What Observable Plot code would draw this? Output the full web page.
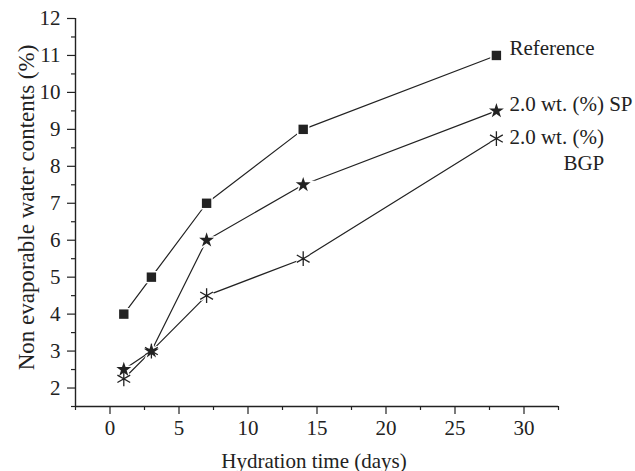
<!DOCTYPE html>
<html>
<head>
<meta charset="utf-8">
<script src="https://cdn.jsdelivr.net/npm/d3@7"></script>
<script src="https://cdn.jsdelivr.net/npm/@observablehq/plot@0.6"></script>
<style>
  html, body { margin: 0; padding: 0; background: #fff; }
</style>
</head>
<body>
<div id="chart"></div>
<script>
const days = [1, 3, 7, 14, 28];
const reference = [4, 5, 7, 9, 11];
const sp = [2.5, 3, 6, 7.5, 9.5];
const bgp = [2.25, 3, 4.5, 5.5, 8.75];
const seriesNames = ["Reference", "2.0 wt. (%) SP", "2.0 wt. (%) BGP"];
const xMajor = [0, 5, 10, 15, 20, 25, 30];
const xMinor = [-2.5, 2.5, 7.5, 12.5, 17.5, 22.5, 27.5, 32.5];
const yMajor = [2, 3, 4, 5, 6, 7, 8, 9, 10, 11, 12];
const yMinor = [1.5, 2.5, 3.5, 4.5, 5.5, 6.5, 7.5, 8.5, 9.5, 10.5, 11.5];
const xLabel = "Hydration time (days)";
const yLabel = "Non evaporable water contents (%)";

const toRows = (vals, name) => days.map((d, i) => ({day: d, value: vals[i], series: name}));
const refRows = toRows(reference, seriesNames[0]);
const spRows = toRows(sp, seriesNames[1]);
const bgpRows = toRows(bgp, seriesNames[2]);
const allRows = [...refRows, ...spRows, ...bgpRows];
const last = rows => [rows[rows.length - 1]];

const ink = "#222";
const font = 21;

const chart = Plot.plot({
  width: 635,
  height: 471,
  marginLeft: 75,
  marginRight: 77,
  marginTop: 18,
  marginBottom: 65,
  x: {domain: [-2.5, 32.5]},
  y: {domain: [1.5, 12]},
  style: {fontFamily: "'Liberation Serif', 'DejaVu Serif', serif", fontSize: font + "px", color: ink, background: "white"},
  marks: [
    Plot.axisX({ticks: xMajor, tickSize: 8, tickPadding: 6, label: null, fontSize: font, stroke: ink, strokeWidth: 1.2}),
    Plot.axisX({ticks: xMinor, tickSize: 4, tickFormat: () => "", label: null, stroke: ink, strokeWidth: 1.2}),
    Plot.axisY({ticks: yMajor, tickSize: 8, tickPadding: 7, label: null, fontSize: font, stroke: ink, strokeWidth: 1.2}),
    Plot.axisY({ticks: yMinor, tickSize: 4, tickFormat: () => "", label: null, stroke: ink, strokeWidth: 1.2}),
    Plot.ruleY([1.5], {stroke: ink, strokeWidth: 1.4}),
    Plot.ruleX([-2.5], {stroke: ink, strokeWidth: 1.4}),
    Plot.line(allRows, {x: "day", y: "value", z: "series", stroke: ink, strokeWidth: 1.2}),
    // white halos
    Plot.dot(refRows, {x: "day", y: "value", symbol: "square", r: 5.3, fill: "white", stroke: "white", strokeWidth: 3}),
    Plot.dot(spRows, {x: "day", y: "value", symbol: "star", r: 4.7, fill: "white", stroke: "white", strokeWidth: 3}),
    Plot.dot(bgpRows, {x: "day", y: "value", symbol: "asterisk", r: 7, stroke: "white", strokeWidth: 4}),
    // markers
    Plot.dot(refRows, {x: "day", y: "value", symbol: "square", r: 5.3, fill: ink, stroke: "none"}),
    Plot.dot(spRows, {x: "day", y: "value", symbol: "star", r: 4.7, fill: ink, stroke: "none"}),
    Plot.dot(bgpRows, {x: "day", y: "value", symbol: "asterisk", r: 7, stroke: ink, strokeWidth: 1.3}),
    // series labels
    Plot.text(last(refRows), {x: "day", y: "value", text: d => seriesNames[0], textAnchor: "start", lineAnchor: "bottom", dx: 13, dy: 0, fontSize: font, fill: ink}),
    Plot.text(last(spRows), {x: "day", y: "value", text: d => seriesNames[1], textAnchor: "start", lineAnchor: "bottom", dx: 13, dy: 0, fontSize: font, fill: ink}),
    Plot.text(last(bgpRows), {x: "day", y: "value", text: d => seriesNames[2].split(" BGP")[0], textAnchor: "start", lineAnchor: "bottom", dx: 13, dy: 5, fontSize: font, fill: ink}),
    Plot.text(last(bgpRows), {x: "day", y: "value", text: d => "BGP", textAnchor: "start", lineAnchor: "bottom", dx: 67, dy: 31.5, fontSize: font, fill: ink}),
    // axis titles
    Plot.text([xLabel], {text: d => d, frameAnchor: "bottom", textAnchor: "middle", lineAnchor: "bottom", dx: -3, dy: 61, fontSize: font, fill: ink}),
    Plot.text([yLabel], {text: d => d, frameAnchor: "left", textAnchor: "middle", rotate: -90, lineAnchor: "bottom", dx: -42, dy: -5, fontSize: 23, fill: ink})
  ]
});
document.getElementById("chart").appendChild(chart);
</script>
</body>
</html>
